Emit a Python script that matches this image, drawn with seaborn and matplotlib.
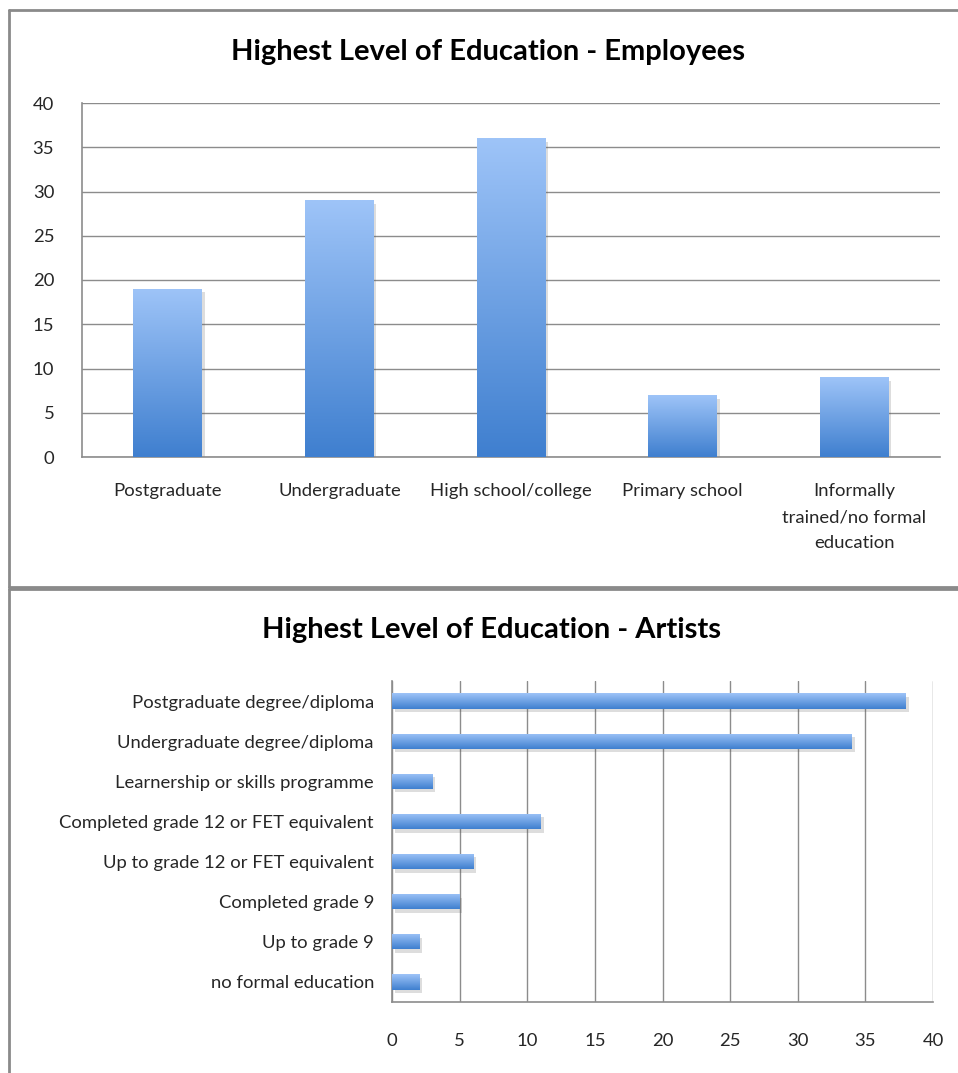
import numpy as np
import pandas as pd
import matplotlib
matplotlib.use("Agg")
import matplotlib.pyplot as plt
import matplotlib.patheffects as pe
from matplotlib.colors import LinearSegmentedColormap
from matplotlib.lines import Line2D
import seaborn as sns

# Employees: highest level of education
emp_categories = ["Postgraduate", "Undergraduate", "High school/college",
                  "Primary school", "Informally\ntrained/no formal\neducation"]
emp_values = [19, 29, 36, 7, 9]

# Artists: highest level of education
art_categories = ["Postgraduate degree/diploma", "Undergraduate degree/diploma",
                  "Learnership or skills programme", "Completed grade 12 or FET equivalent",
                  "Up to grade 12 or FET equivalent", "Completed grade 9",
                  "Up to grade 9", "no formal education"]
art_values = [38, 34, 3, 11, 6, 5, 2, 2]

value_ticks = [0, 5, 10, 15, 20, 25, 30, 35, 40]

sns.set_theme(style="white")
plt.rcParams["font.family"] = ["Lato", "DejaVu Sans"]

GRID = "#8c8c8c"
FRAME = "#8a8a8a"
grad_cmap = LinearSegmentedColormap.from_list("bar", ["#3f7fcf", "#9ec4f8"])
LABEL_FS = 13.3

W, H = 958, 1073
fig = plt.figure(figsize=(W / 100, H / 100), dpi=100)


def fx(px):
    return px / W


def fy(py):
    return 1 - py / H


def gradient_fill(ax, patch):
    """Fill a bar with a dark-bottom / light-top gradient plus a soft shadow."""
    x0, y0 = patch.get_x(), patch.get_y()
    w, h = patch.get_width(), patch.get_height()
    patch.set_facecolor("#6a9ee0")
    patch.set_edgecolor("none")
    patch.set_path_effects([pe.SimplePatchShadow(offset=(2, -2.5), alpha=0.2,
                                                 shadow_rgbFace="#555555"),
                            pe.Normal()])
    grad = np.linspace(0, 1, 256).reshape(-1, 1)
    ylo, yhi = min(y0, y0 + h), max(y0, y0 + h)
    if ax.yaxis_inverted():
        extent = (x0, x0 + w, yhi, ylo)
    else:
        extent = (x0, x0 + w, ylo, yhi)
    img = ax.imshow(grad, cmap=grad_cmap, aspect="auto", extent=extent,
                    origin="lower", zorder=3)
    img.set_clip_path(patch)


# ---------- top chart: employees (vertical bars) ----------
ax1 = fig.add_axes([fx(82), fy(457), fx(940) - fx(82), fy(103) - fy(457)])
emp_df = pd.DataFrame({"category": emp_categories, "value": emp_values})
sns.barplot(data=emp_df, x="category", y="value", ax=ax1, width=0.4,
            color="#6a9ee0", saturation=1, zorder=2)
ax1.set_xlim(-0.5, len(emp_categories) - 0.5)
ax1.set_ylim(0, 40)
for p in list(ax1.patches):
    gradient_fill(ax1, p)
ax1.set_ylim(0, 40)
ax1.set_xlim(-0.5, len(emp_categories) - 0.5)
ax1.set_yticks(value_ticks)
ax1.set_yticklabels([str(v) for v in value_ticks], fontsize=LABEL_FS)
ax1.yaxis.grid(True, color=GRID, linewidth=1.0)
ax1.set_axisbelow(True)
ax1.set_xticks(np.arange(-0.5, len(emp_categories)), labels=[""] * (len(emp_categories) + 1))
ax1.set_xticks(np.arange(len(emp_categories)), labels=emp_categories, minor=True,
               fontsize=LABEL_FS, linespacing=1.75)
ax1.tick_params(axis="x", which="minor", length=0, pad=19)
ax1.tick_params(axis="x", which="major", length=6, width=1, color=GRID, direction="out")
ax1.tick_params(axis="y", length=6, width=1, color=GRID, direction="out", pad=14)
ax1.set_xlabel("")
ax1.set_ylabel("")
for s in ["top", "right"]:
    ax1.spines[s].set_visible(False)
for s in ["left", "bottom"]:
    ax1.spines[s].set_color(GRID)
    ax1.spines[s].set_linewidth(1.2)
fig.text(fx(488), fy(52), "Highest Level of Education - Employees", ha="center",
         va="center", fontsize=21, fontweight="bold", color="black")

# ---------- bottom chart: artists (horizontal bars) ----------
ax2 = fig.add_axes([fx(392), fy(1002), fx(933) - fx(392), fy(681) - fy(1002)])
art_df = pd.DataFrame({"category": art_categories, "value": art_values})
sns.barplot(data=art_df, y="category", x="value", ax=ax2, width=0.38,
            color="#6a9ee0", saturation=1, orient="h", zorder=2)
ax2.set_xlim(0, 40)
ax2.set_ylim(len(art_categories) - 0.5, -0.5)
for p in list(ax2.patches):
    gradient_fill(ax2, p)
ax2.set_xlim(0, 40)
ax2.set_ylim(len(art_categories) - 0.5, -0.5)
ax2.set_xticks(value_ticks)
ax2.set_xticklabels([str(v) for v in value_ticks], fontsize=LABEL_FS)
ax2.xaxis.grid(True, color=GRID, linewidth=1.0)
ax2.set_axisbelow(True)
ax2.set_yticks(np.arange(-0.5, len(art_categories)), labels=[""] * (len(art_categories) + 1))
ax2.set_yticks(np.arange(len(art_categories)), labels=art_categories, minor=True,
               fontsize=LABEL_FS)
ax2.tick_params(axis="y", which="minor", length=0, pad=13)
ax2.tick_params(axis="y", which="major", length=6, width=1, color=GRID, direction="out")
ax2.tick_params(axis="x", length=6, width=1, color=GRID, direction="out", pad=16)
ax2.set_xlabel("")
ax2.set_ylabel("")
for s in ["top", "right"]:
    ax2.spines[s].set_visible(False)
for s in ["left", "bottom"]:
    ax2.spines[s].set_color(GRID)
    ax2.spines[s].set_linewidth(1.2)
fig.text(fx(492), fy(630), "Highest Level of Education - Artists", ha="center",
         va="center", fontsize=21, fontweight="bold", color="black")

# ---------- panel frames ----------
for (x0, y0, x1, y1) in [(9, 10, 9, 587), (9, 10, 960, 10), (9, 587, 960, 587),
                         (9, 589, 960, 589), (9, 589, 9, 1075)]:
    fig.add_artist(Line2D([fx(x0), fx(x1)], [fy(y0), fy(y1)], color=FRAME,
                          linewidth=2.0, transform=fig.transFigure))

fig.savefig("out.png", dpi=100, facecolor="white")
